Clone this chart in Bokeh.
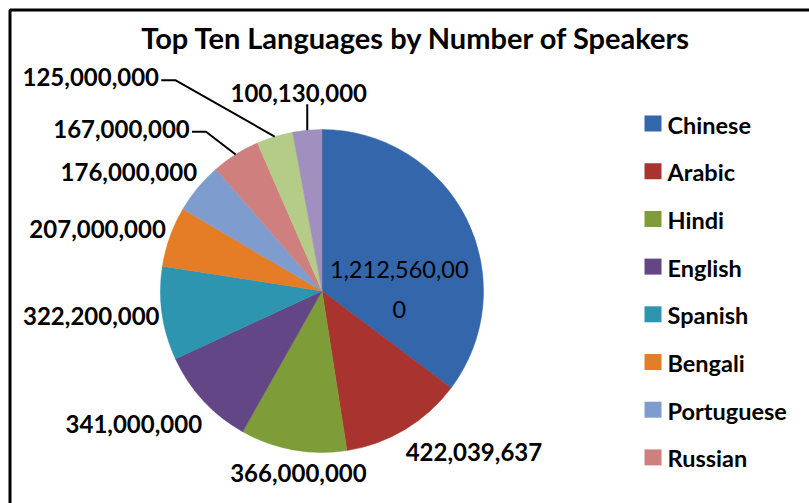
import math
from bokeh.plotting import figure
from bokeh.models import ColumnDataSource, Range1d
from bokeh.core.properties import value
from bokeh.embed import file_html
from bokeh.resources import INLINE

# ---------------- data ----------------
languages = ["Chinese", "Arabic", "Hindi", "English", "Spanish",
             "Bengali", "Portuguese", "Russian", "Japanese", "German"]
speakers = [1212560000, 422039637, 366000000, 341000000, 322200000,
            207000000, 176000000, 167000000, 125000000, 100130000]
colors = ["#3366AA", "#A8332F", "#7E9D38", "#624686", "#2E95B0",
          "#E47D26", "#7E9CCD", "#D07F7F", "#B4CC88", "#A18FC0"]
title_text = "Top Ten Languages by Number of Speakers"

# ---------------- layout (pixels, y measured downward) ----------------
W, H = 809, 503
CX, CY, R = 321.5, 290.5, 161.5
LABEL_W, LABEL_H = 135, 22
LABEL_NUDGE = [(5, 34), (32, 10), (18, 8), (-17, 13), (0, 0),
               (-5, -3), (-14, -6), (-76, -13), (-163, -45), (-2, -22)]
LEADER = [None, None, None, None, None, None, None, "elbow", "elbow", "vertical"]
FONT = "Lato"
LEG_X, LEG_Y0, LEG_STEP = 652.5, 123, 47.7


def fy(y):
    return H - y


p = figure(width=W, height=H, x_range=Range1d(0, W), y_range=Range1d(0, H),
           output_backend="svg", toolbar_location=None, min_border=0,
           x_axis_location=None, y_axis_location=None)
p.grid.visible = False
p.outline_line_color = None
p.background_fill_color = "white"
p.border_fill_color = "white"

# chart frame (extends past the right and bottom edges)
p.quad(left=[9.5], right=[W + 40], top=[fy(9.5)], bottom=[fy(H + 40)],
       fill_color=None, line_color="black", line_width=3)

# ---------------- pie ----------------
total = float(sum(speakers))
starts, ends, mids = [], [], []
cum = 0.0
for v in speakers:
    f0 = cum / total
    cum += v
    f1 = cum / total
    starts.append(math.pi / 2 - 2 * math.pi * f0)
    ends.append(math.pi / 2 - 2 * math.pi * f1)
    mids.append(math.pi / 2 - 2 * math.pi * (f0 + f1) / 2)

src = ColumnDataSource(dict(lang=languages, val=speakers, color=colors,
                            start=starts, end=ends))
p.wedge(x=CX, y=fy(CY), radius=R, start_angle="start", end_angle="end",
        direction="clock", fill_color="color", line_color="color",
        line_width=0.5, source=src)

# ---------------- data labels ----------------
out_x, out_y, out_t = [], [], []
lead_xs, lead_ys = [], []
for i, v in enumerate(speakers):
    a = mids[i]
    txt = f"{v:,}"
    if i == 0:
        # inside, best fit
        bx = CX + 0.5 * R * math.cos(a)
        by = CY - 0.5 * R * math.sin(a)
        lx, ly = bx + LABEL_NUDGE[i][0], by + LABEL_NUDGE[i][1]
        if len(txt) > 12:
            txt = txt[:12] + "\n" + txt[12:]
        p.text(x=[lx], y=[fy(ly)], text=[txt], text_font=value(FONT),
               text_font_size="23.5px", text_align="center",
               text_baseline="middle", text_line_height=1.4,
               text_color="black")
        continue
    r0 = R + 4
    bx = CX + (r0 + LABEL_W / 2) * math.cos(a)
    by = CY - (r0 + LABEL_H / 2) * math.sin(a)
    lx, ly = bx + LABEL_NUDGE[i][0], by + LABEL_NUDGE[i][1]
    out_x.append(lx)
    out_y.append(fy(ly))
    out_t.append(txt)
    ex = CX + R * math.cos(a)
    ey = CY - R * math.sin(a)
    if LEADER[i] == "elbow":
        rx = lx + LABEL_W / 2 + 3
        lead_xs.append([rx, rx + 14, ex])
        lead_ys.append([fy(ly + 3), fy(ly + 3), fy(ey)])
    elif LEADER[i] == "vertical":
        lead_xs.append([ex, ex])
        lead_ys.append([fy(ly + LABEL_H / 2), fy(ey)])

p.multi_line(xs=lead_xs, ys=lead_ys, line_color="black", line_width=2)
p.text(x=out_x, y=out_y, text=out_t, text_font=value(FONT),
       text_font_style="bold", text_font_size="24px", text_align="center",
       text_baseline="middle", text_color="black")

# ---------------- title ----------------
p.text(x=[416], y=[fy(37)], text=[title_text], text_font=value(FONT),
       text_font_style="bold", text_font_size="29px", text_align="center",
       text_baseline="middle", text_color="black")

# ---------------- legend (items that fit in the chart area) ----------------
lg_x, lg_y, lg_c, lg_t = [], [], [], []
for i, name in enumerate(languages):
    yy = LEG_Y0 + i * LEG_STEP
    if yy + 14 > H:
        continue
    lg_x.append(LEG_X)
    lg_y.append(fy(yy))
    lg_c.append(colors[i])
    lg_t.append(name)
p.rect(x=lg_x, y=lg_y, width=17, height=16, fill_color=lg_c, line_color=None)
p.text(x=[LEG_X + 14.5] * len(lg_x), y=[yy - 1 for yy in lg_y], text=lg_t,
       text_font=value(FONT), text_font_style="bold", text_font_size="23.5px",
       text_align="left", text_baseline="middle", text_color="black")

open("out.html", "w").write(file_html(p, INLINE))
